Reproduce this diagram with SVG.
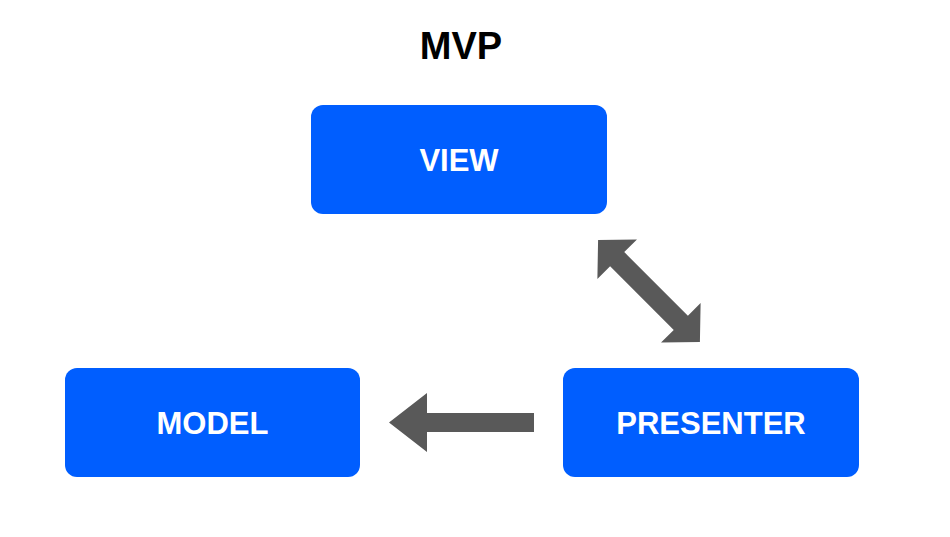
<svg xmlns="http://www.w3.org/2000/svg" width="950" height="537" viewBox="0 0 950 537">
<style>
.box{fill:#005EFF;}
.lbl{font-family:"Liberation Sans",Arial,sans-serif;font-weight:bold;font-size:31px;fill:#ffffff;text-anchor:middle;}
.title{font-family:"Liberation Sans",Arial,sans-serif;font-weight:bold;font-size:38px;fill:#000000;text-anchor:middle;}
.arr{fill:#595959;}
</style>
<rect width="950" height="537" fill="#ffffff"/>
<text class="title" x="461" y="59">MVP</text>
<g id="view">
<rect class="box" x="311" y="105" width="296" height="109" rx="12" ry="12"/>
<text class="lbl" x="459" y="171">VIEW</text>
</g>
<g id="model">
<rect class="box" x="65" y="368" width="295" height="109" rx="12" ry="12"/>
<text class="lbl" x="212.5" y="434">MODEL</text>
</g>
<g id="presenter">
<rect class="box" x="563" y="368" width="296" height="109" rx="12" ry="12"/>
<text class="lbl" x="711" y="434">PRESENTER</text>
</g>
<g id="connectors">
<polygon class="arr" transform="translate(649,291) rotate(45)" points="-72,0 -45,-28 -45,-10 45,-10 45,-28 72,0 45,28 45,10 -45,10 -45,28"/>
<polygon class="arr" points="389,422.5 427,393 427,413 534,413 534,432 427,432 427,452"/>
</g>
</svg>
